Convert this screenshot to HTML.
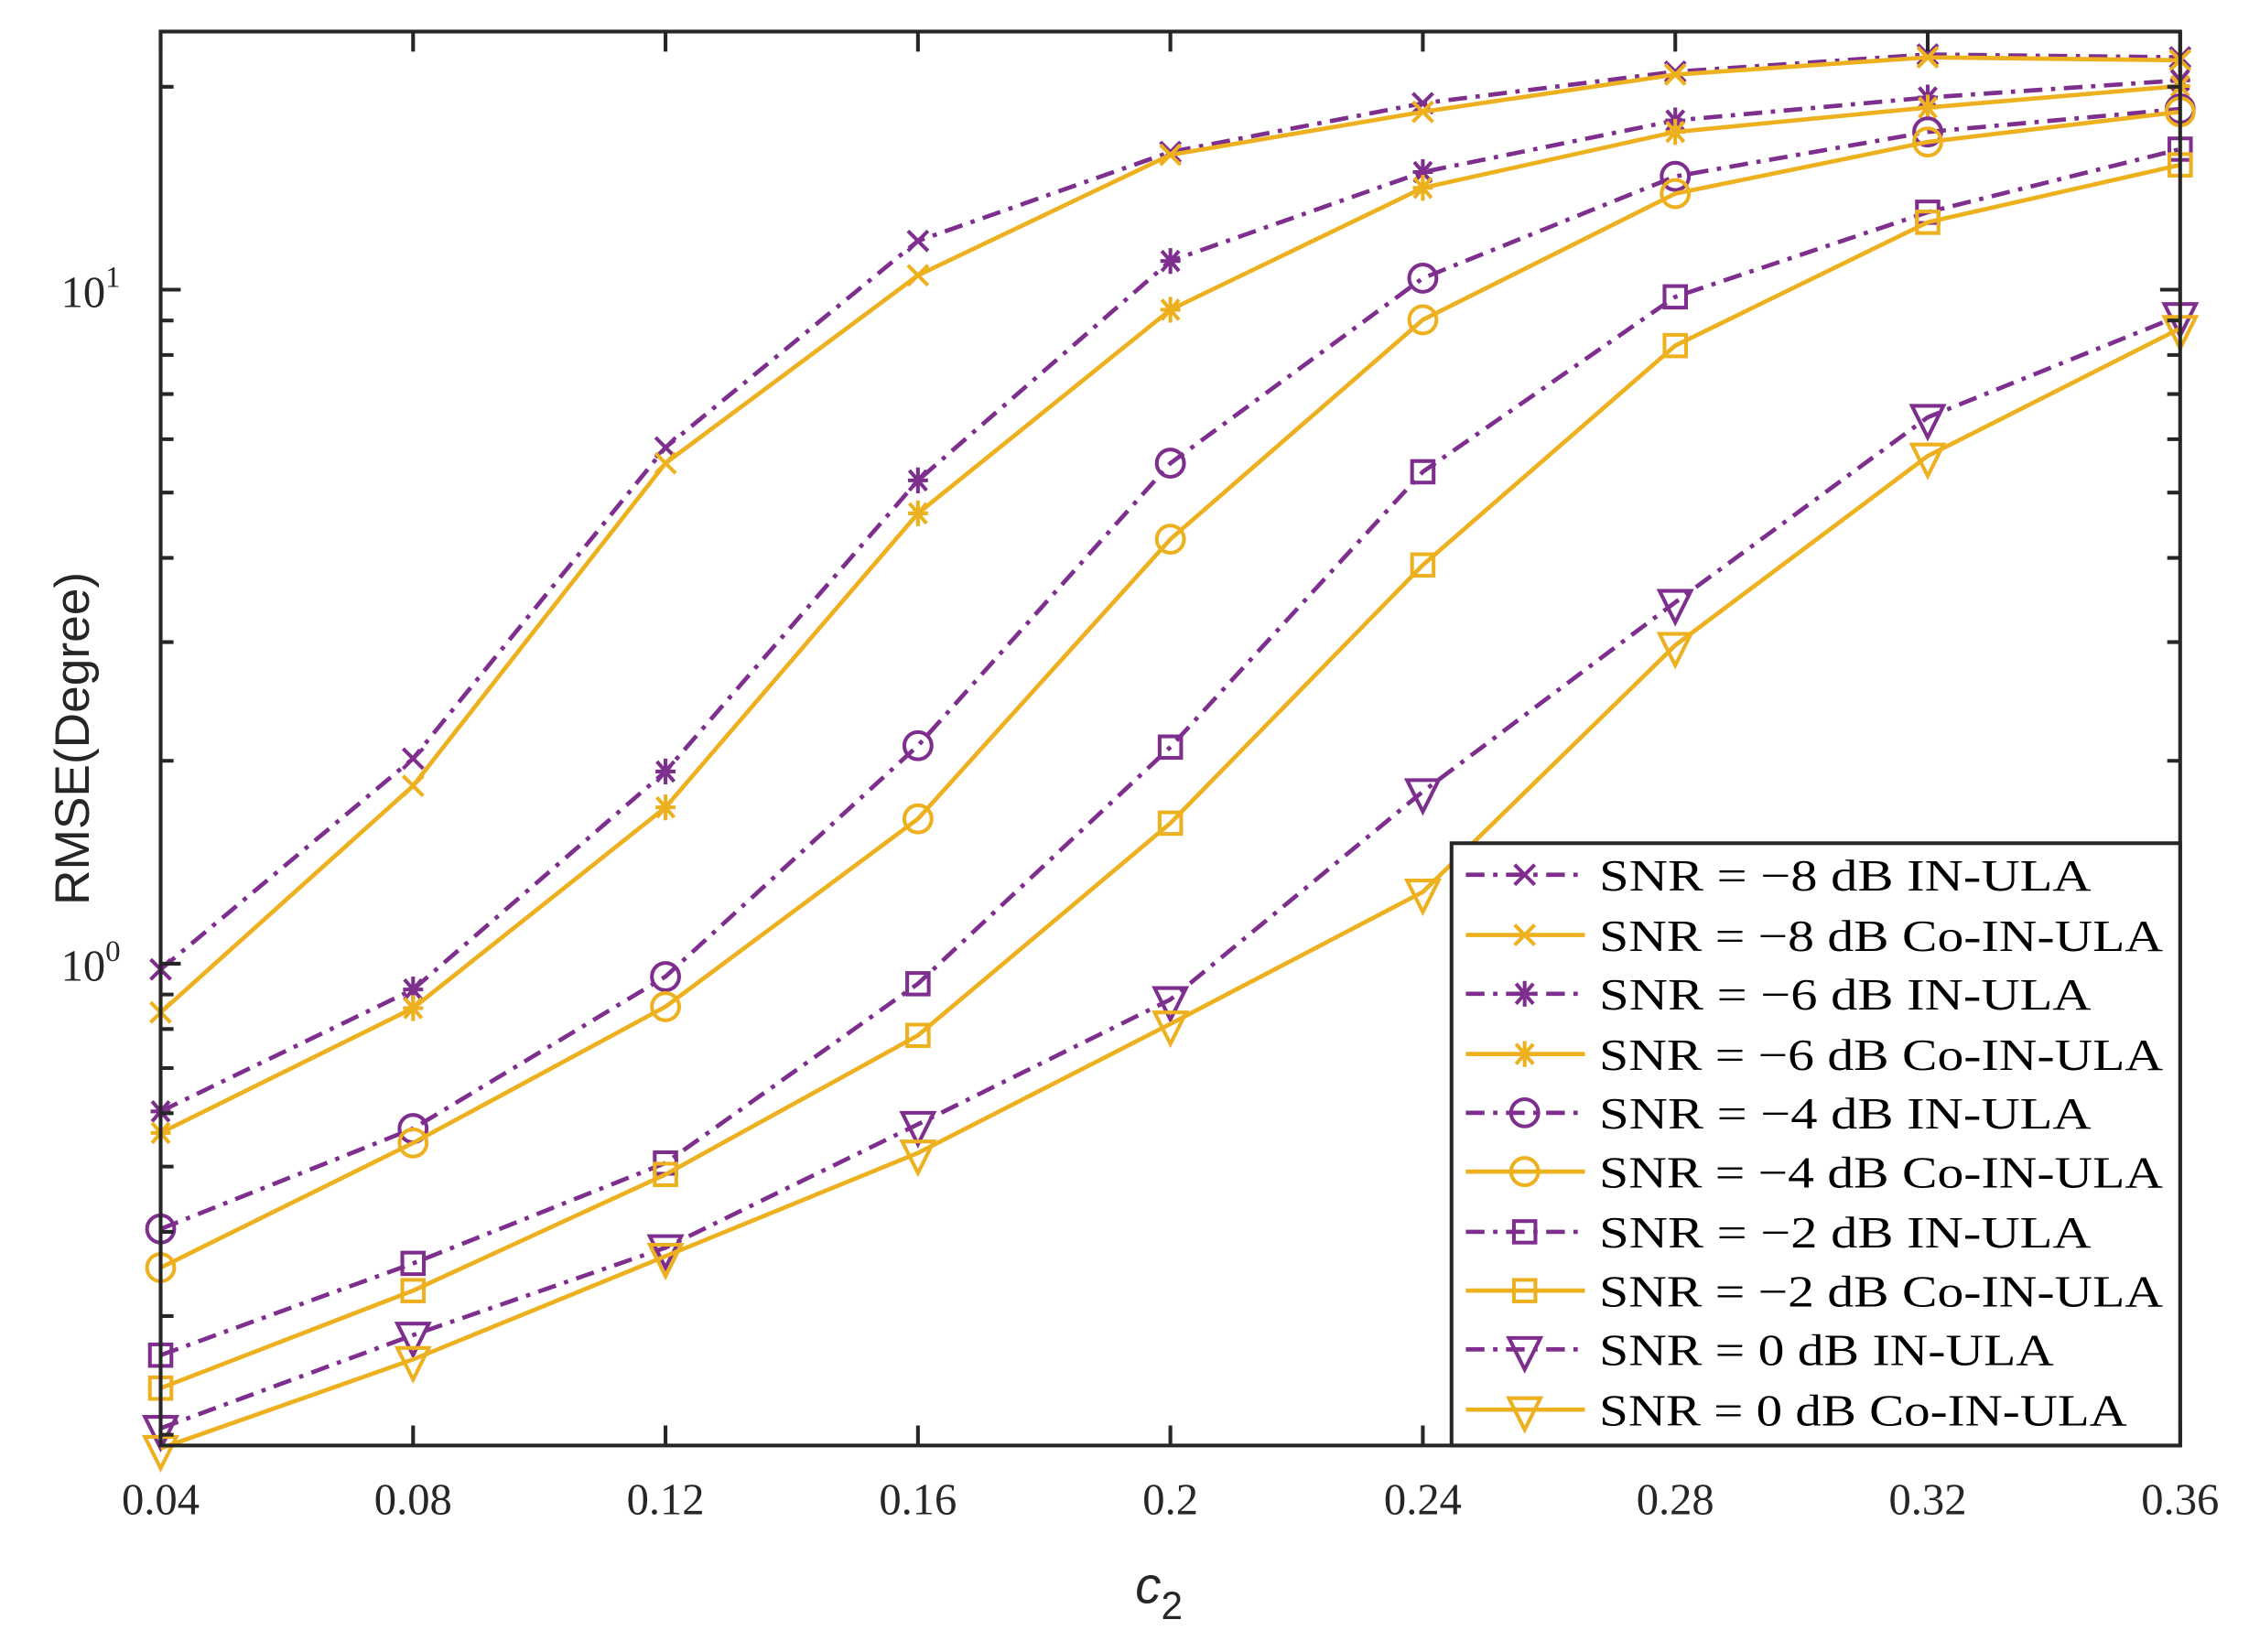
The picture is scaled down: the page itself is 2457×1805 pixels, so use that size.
<!DOCTYPE html>
<html><head><meta charset="utf-8"><style>html,body{margin:0;padding:0;background:#fff}svg{display:block}</style></head>
<body>
<svg id="s" xmlns="http://www.w3.org/2000/svg" width="2457" height="1805" viewBox="0 0 1568 1152" preserveAspectRatio="none">
<rect x="0" y="0" width="1568" height="1152" fill="#fff"/>
<g id="plot"></g>
<g id="axes" stroke="#262626" stroke-width="2.6" fill="none"></g>
<g font-family="Liberation Serif, serif" font-size="31" fill="#262626" text-anchor="middle">
<text x="112" y="1056">0.04</text><text x="288" y="1056">0.08</text><text x="464" y="1056">0.12</text>
<text x="640" y="1056">0.16</text><text x="816" y="1056">0.2</text><text x="992" y="1056">0.24</text>
<text x="1168" y="1056">0.28</text><text x="1344" y="1056">0.32</text><text x="1520" y="1056">0.36</text>
<text x="84" y="214" text-anchor="end">10<tspan font-size="21" dy="-14">1</tspan></text>
<text x="84" y="684" text-anchor="end">10<tspan font-size="21" dy="-14">0</tspan></text>
</g>
<text transform="translate(62,515) rotate(-90)" font-family="Liberation Sans, sans-serif" font-size="34" fill="#262626" text-anchor="middle">RMSE(Degree)</text>
<text x="808" y="1118" font-family="Liberation Sans, sans-serif" font-style="italic" font-size="36" fill="#262626" text-anchor="middle">c<tspan font-style="normal" font-size="27" dy="11">2</tspan></text>
<rect x="1012" y="588" width="508" height="420" fill="#fff" stroke="#262626" stroke-width="2.6"/>
<g id="leg"></g>
<g font-family="Liberation Serif, serif" font-size="31" fill="#000" lengthAdjust="spacingAndGlyphs">
<text x="1115" y="621" textLength="343" lengthAdjust="spacingAndGlyphs">SNR = −8 dB IN-ULA</text>
<text x="1115" y="663" textLength="393" lengthAdjust="spacingAndGlyphs">SNR = −8 dB Co-IN-ULA</text>
<text x="1115" y="704" textLength="343" lengthAdjust="spacingAndGlyphs">SNR = −6 dB IN-ULA</text>
<text x="1115" y="746" textLength="393" lengthAdjust="spacingAndGlyphs">SNR = −6 dB Co-IN-ULA</text>
<text x="1115" y="787" textLength="343" lengthAdjust="spacingAndGlyphs">SNR = −4 dB IN-ULA</text>
<text x="1115" y="828" textLength="393" lengthAdjust="spacingAndGlyphs">SNR = −4 dB Co-IN-ULA</text>
<text x="1115" y="870" textLength="343" lengthAdjust="spacingAndGlyphs">SNR = −2 dB IN-ULA</text>
<text x="1115" y="911" textLength="393" lengthAdjust="spacingAndGlyphs">SNR = −2 dB Co-IN-ULA</text>
<text x="1115" y="952" textLength="317" lengthAdjust="spacingAndGlyphs">SNR = 0 dB IN-ULA</text>
<text x="1115" y="994" textLength="368" lengthAdjust="spacingAndGlyphs">SNR = 0 dB Co-IN-ULA</text>
</g>
<script>
var NS="http://www.w3.org/2000/svg";
function el(p,t,a){var e=document.createElementNS(NS,t);for(var k in a)e.setAttribute(k,a[k]);p.appendChild(e);return e;}
var P="#7E2F8E",O="#EDB120";
var xs=[];for(var i=0;i<9;i++)xs.push(112+176*i);
var S=[
[P,1,'x',[676,529,312,168,106,72,50,38,40]],
[O,0,'x',[706,548,323,192,108,78,52,40,42]],
[P,1,'*',[775,690,538,335,182,120,84,68,56]],
[O,0,'*',[790,703,563,358,216,131,92,75,60]],
[P,1,'o',[857,787,681,520,323,194,123,92,76]],
[O,0,'o',[884,797,702,571,376,223,135,99,78]],
[P,1,'s',[945,881,811,686,521,329,207,148,104]],
[O,0,'s',[968,900,819,722,574,394,241,155,115]],
[P,1,'v',[996,931,870,784,697,552,420,291,220]],
[O,0,'v',[1010,948,876,804,714,622,450,318,229]]];
function marker(g,t,x,y,c){var a={stroke:c,'stroke-width':2.6,fill:'none'};
if(t=='x'){el(g,'path',Object.assign({d:'M'+(x-7)+' '+(y-7)+'L'+(x+7)+' '+(y+7)+'M'+(x-7)+' '+(y+7)+'L'+(x+7)+' '+(y-7)},a));}
else if(t=='*'){el(g,'path',Object.assign({d:'M'+(x-7)+' '+y+'L'+(x+7)+' '+y+'M'+x+' '+(y-9)+'L'+x+' '+(y+9)+'M'+(x-6)+' '+(y-7)+'L'+(x+6)+' '+(y+7)+'M'+(x-6)+' '+(y+7)+'L'+(x+6)+' '+(y-7)},a));}
else if(t=='o'){el(g,'circle',Object.assign({cx:x,cy:y,r:9.5},a));}
else if(t=='s'){el(g,'rect',Object.assign({x:x-7.5,y:y-7.5,width:15,height:15},a));}
else if(t=='v'){el(g,'path',Object.assign({d:'M'+(x-11)+' '+(y-8)+'L'+(x+11)+' '+(y-8)+'L'+x+' '+(y+14)+'Z'},a));}}
var g=document.getElementById('plot');
S.forEach(function(s){var d='';s[3].forEach(function(y,i){d+=(i?'L':'M')+xs[i]+' '+y;});
var a={d:d,stroke:s[0],'stroke-width':3,fill:'none'};if(s[1])a['stroke-dasharray']='13,6,3,6';el(g,'path',a);
s[3].forEach(function(y,i){marker(g,s[2],xs[i],y,s[0]);});});
var lg=document.getElementById('leg');
S.forEach(function(s,i){var y=[610,652,693,735,776,817,859,900,941,983][i];
var a={d:'M1022 '+y+'L1105 '+y,stroke:s[0],'stroke-width':3,fill:'none'};if(s[1])a['stroke-dasharray']='13,6,3,6';el(lg,'path',a);marker(lg,s[2],1063,y,s[0]);});
var ax=document.getElementById('axes');
el(ax,'rect',{x:112,y:22,width:1408,height:986});
var d='';
xs.forEach(function(x){d+='M'+x+' 1008L'+x+' 994M'+x+' 22L'+x+' 36';});
[202,672].forEach(function(y){d+='M112 '+y+'L126 '+y+'M1520 '+y+'L1506 '+y;});
for(var k=2;k<=9;k++){var l=470*Math.log10(k);[202-l,672-l,1142-l].forEach(function(y){if(y>22&&y<1008&&Math.abs(y-202)>1&&Math.abs(y-672)>1)d+='M112 '+y+'L121 '+y+'M1520 '+y+'L1511 '+y;});}
el(ax,'path',{d:d});
</script>
</svg>
</body></html>
